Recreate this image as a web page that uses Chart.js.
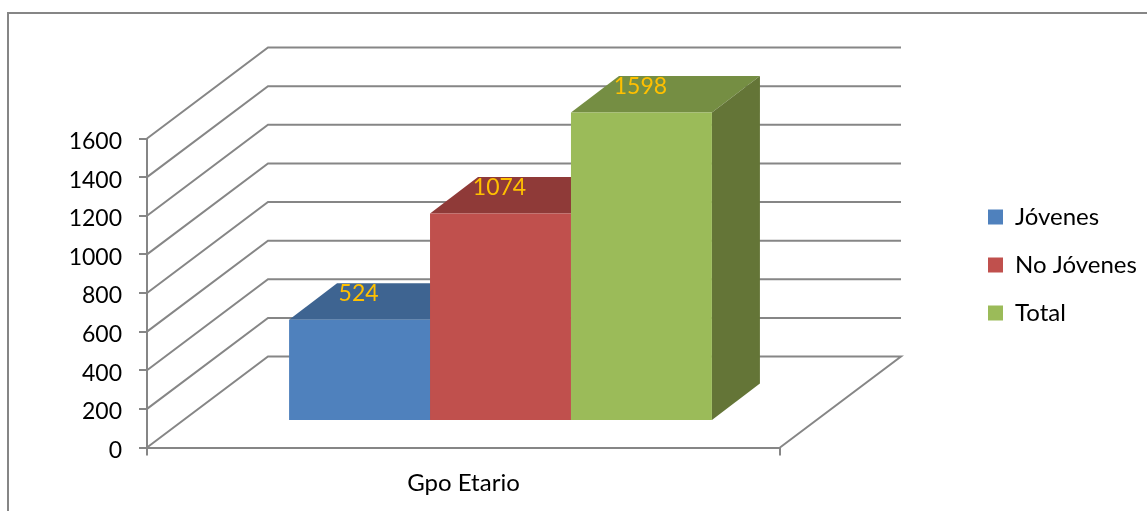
<!DOCTYPE html>
<html>
<head>
<meta charset="utf-8">
<style>
  html, body { margin: 0; padding: 0; background: #fff; overflow: hidden; }
  canvas { display: block; }
</style>
<script src="https://cdn.jsdelivr.net/npm/chart.js@4/dist/chart.umd.min.js"></script>
</head>
<body>
<canvas id="chart" width="1147" height="511"></canvas>
<script>
const categories = ['Gpo Etario'];
const seriesNames = ['Jóvenes', 'No Jóvenes', 'Total'];
const jovenes = [524];
const noJovenes = [1074];
const total = [1598];

const frontColors = ['#4f81bd', '#c0504d', '#9bbb59'];
const topColors = ['#3e6491', '#8f3a38', '#758e43'];
const sideColors = ['#345479', '#7a3130', '#647537'];

const lineColor = '#868686';
const fontName = 'Lato, Carlito, sans-serif';
const wall = { dx: 121, dy: -91 };   // back wall offset from the front plane
const barShift = { dx: 37, dy: -26.5 }; // bars stand part way in on the floor
const barDepth = { dx: 48, dy: -36.5 };

function poly(ctx, pts, color) {
  ctx.fillStyle = color;
  ctx.beginPath();
  pts.forEach((p, i) => (i ? ctx.lineTo(p[0], p[1]) : ctx.moveTo(p[0], p[1])));
  ctx.closePath();
  ctx.fill();
}

const box3d = {
  id: 'box3d',
  beforeDraw(chart) {
    const { ctx, chartArea, scales, width, height } = chart;
    ctx.save();
    // outer frame, cut by the bottom and right of the picture
    ctx.strokeStyle = lineColor;
    ctx.lineWidth = 2;
    ctx.beginPath();
    ctx.moveTo(8, height);
    ctx.lineTo(8, 13);
    ctx.lineTo(width, 13);
    ctx.stroke();
    // side wall and back wall lines
    scales.y.ticks.forEach((tick) => {
      const y = scales.y.getPixelForValue(tick.value);
      ctx.beginPath();
      ctx.moveTo(chartArea.left, y);
      ctx.lineTo(chartArea.left + wall.dx, y + wall.dy);
      ctx.lineTo(chartArea.right + wall.dx, y + wall.dy);
      if (tick.value === 0) ctx.lineTo(chartArea.right, y);
      ctx.stroke();
    });
    ctx.restore();
  },
  afterLayout(chart) {
    // legend sits far right of the plot, away from where the layout puts it
    const legend = chart.legend;
    legend.left = 964;
    legend.right = 1147;
    legend.top = 181;
    legend.bottom = 500;
    // Lato sits high in its line box, nudge the value labels down
    chart.scales.y.getLabelItems().forEach((item) => {
      item.options.translation[1] += 3;
    });
  },
  beforeDatasetsDraw(chart) {
    const { ctx } = chart;
    ctx.save();
    ctx.translate(barShift.dx, barShift.dy);
    const d = barDepth;
    chart.data.datasets.forEach((ds, i) => {
      const bar = chart.getDatasetMeta(i).data[0];
      const l = bar.x - bar.width / 2;
      const r = bar.x + bar.width / 2;
      poly(ctx, [[l, bar.y], [r, bar.y], [r + d.dx, bar.y + d.dy], [l + d.dx, bar.y + d.dy]], topColors[i]);
      poly(ctx, [[r, bar.y], [r + d.dx, bar.y + d.dy], [r + d.dx, bar.base + d.dy], [r, bar.base]], sideColors[i]);
    });
  },
  afterDatasetsDraw(chart) {
    const { ctx } = chart;
    ctx.restore();
    ctx.save();
    ctx.fillStyle = '#ffc000';
    ctx.font = '23px ' + fontName;
    ctx.textAlign = 'center';
    ctx.textBaseline = 'middle';
    chart.data.datasets.forEach((ds, i) => {
      const bar = chart.getDatasetMeta(i).data[0];
      ctx.fillText(ds.data[0], bar.x + barShift.dx - 1, bar.y + barShift.dy - 26);
    });
    ctx.restore();
  },
};

new Chart(document.getElementById('chart'), {
  type: 'bar',
  plugins: [box3d],
  data: {
    labels: categories,
    datasets: [
      { label: seriesNames[0], data: jovenes, backgroundColor: frontColors[0] },
      { label: seriesNames[1], data: noJovenes, backgroundColor: frontColors[1] },
      { label: seriesNames[2], data: total, backgroundColor: frontColors[2] },
    ],
  },
  options: {
    responsive: false,
    animation: false,
    layout: { padding: { top: 138.5, right: 367, left: 0, bottom: 0 } },
    datasets: { bar: { barPercentage: 1, categoryPercentage: 0.668, borderWidth: 0, clip: false } },
    plugins: {
      tooltip: { enabled: false },
      legend: {
        position: 'chartArea',
        align: 'start',
        labels: { boxWidth: 15, boxHeight: 15, padding: 24, color: '#000', font: { family: fontName, size: 24 } },
      },
    },
    scales: {
      x: {
        afterFit: (s) => { s.height = 63.5; },
        border: { color: lineColor, width: 2 },
        grid: { drawOnChartArea: false, color: lineColor, lineWidth: 2, tickLength: 8, offset: true },
        ticks: { color: '#000', padding: 13, font: { family: fontName, size: 24 } },
      },
      y: {
        min: 0,
        max: 1600,
        afterFit: (s) => { s.width = 147; },
        border: { color: lineColor, width: 2 },
        grid: { drawOnChartArea: false, color: lineColor, lineWidth: 2, tickLength: 8 },
        ticks: { stepSize: 200, color: '#000', padding: 17, font: { family: fontName, size: 23 }, callback: (v) => String(v) },
      },
    },
  },
});
</script>
</body>
</html>
